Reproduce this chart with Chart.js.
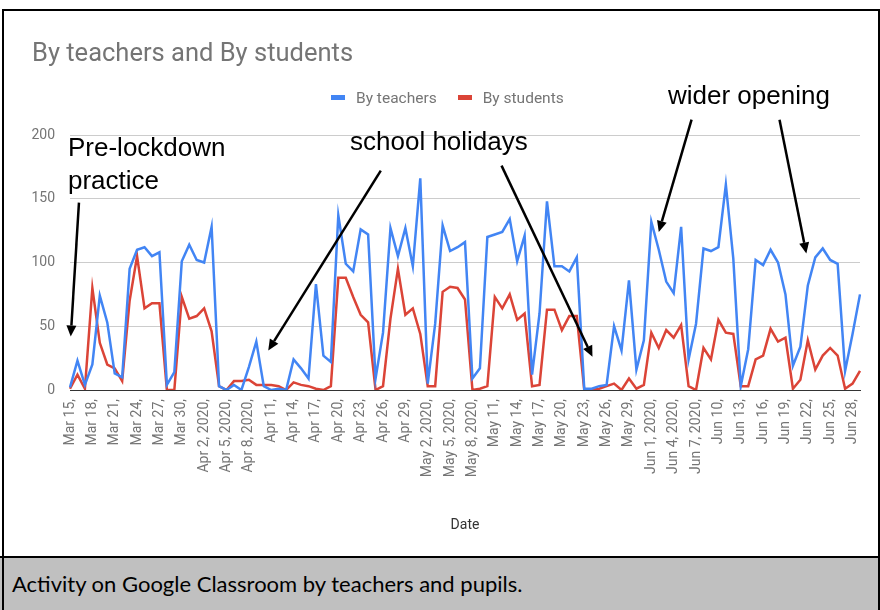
<!DOCTYPE html>
<html>
<head>
<meta charset="utf-8">
<script src="https://cdn.jsdelivr.net/npm/chart.js@4"></script>
<style>
  html, body { margin:0; padding:0; background:#fff; }
  body { width:880px; height:610px; position:relative; overflow:hidden; font-family:Roboto, sans-serif; }
  #wrap { position:absolute; left:0; top:0; width:880px; height:557px; }
  #frame { position:absolute; left:2px; top:9px; width:874px; height:610px; border:2px solid #000; pointer-events:none; box-sizing:content-box; }
  #capband { position:absolute; left:0; top:556px; width:880px; height:60px; background:#c0c0c0; border-top:2px solid #000; }
  #caption { position:absolute; left:12px; top:570px; font-family:Lato, sans-serif; font-size:22px; color:#000; white-space:nowrap; }
  .title { position:absolute; left:32px; top:37px; font-family:Roboto; font-size:25.5px; color:#757575; white-space:nowrap; line-height:30px; }
  .legend { position:absolute; top:89px; left:331px; font-family:Roboto; font-size:15.5px; color:#757575; white-space:nowrap; line-height:18px; }
  .legend span.sw { display:inline-block; width:14px; height:5px; vertical-align:middle; margin-right:11px; position:relative; top:-1px; }
  .note { position:absolute; font-family:"Liberation Sans", Arial, sans-serif; font-size:26px; color:#000; white-space:nowrap; line-height:33px; }
</style>
</head>
<body>
<div id="wrap"><canvas id="c" width="880" height="557"></canvas></div>
<div class="title">By teachers and By students</div>
<div class="legend"><span class="sw" style="background:#4285f4"></span>By teachers<span style="display:inline-block;width:21px"></span><span class="sw" style="background:#db4437"></span>By students</div>
<div class="note" style="left:68px;top:131px;">Pre-lockdown<br>practice</div>
<div class="note" style="left:350px;top:125px;">school holidays</div>
<div class="note" style="left:668px;top:79px;">wider opening</div>
<div id="capband"></div>
<div id="caption">Activity on Google Classroom by teachers and pupils.</div>
<div id="frame"></div>
<script>
const dates = [
 "Mar 15","Mar 16","Mar 17","Mar 18","Mar 19","Mar 20","Mar 21","Mar 22","Mar 23","Mar 24","Mar 25","Mar 26","Mar 27","Mar 28","Mar 29","Mar 30","Mar 31",
 "Apr 1","Apr 2","Apr 3","Apr 4","Apr 5","Apr 6","Apr 7","Apr 8","Apr 9","Apr 10","Apr 11","Apr 12","Apr 13","Apr 14","Apr 15","Apr 16","Apr 17","Apr 18","Apr 19","Apr 20","Apr 21","Apr 22","Apr 23","Apr 24","Apr 25","Apr 26","Apr 27","Apr 28","Apr 29","Apr 30",
 "May 1","May 2","May 3","May 4","May 5","May 6","May 7","May 8","May 9","May 10","May 11","May 12","May 13","May 14","May 15","May 16","May 17","May 18","May 19","May 20","May 21","May 22","May 23","May 24","May 25","May 26","May 27","May 28","May 29","May 30","May 31",
 "Jun 1","Jun 2","Jun 3","Jun 4","Jun 5","Jun 6","Jun 7","Jun 8","Jun 9","Jun 10","Jun 11","Jun 12","Jun 13","Jun 14","Jun 15","Jun 16","Jun 17","Jun 18","Jun 19","Jun 20","Jun 21","Jun 22","Jun 23","Jun 24","Jun 25","Jun 26","Jun 27","Jun 28","Jun 29"
];
const tickLabels = ["Mar 15,","Mar 18,","Mar 21,","Mar 24,","Mar 27,","Mar 30,","Apr 2, 2020,","Apr 5, 2020,","Apr 8, 2020,","Apr 11,","Apr 14,","Apr 17,","Apr 20,","Apr 23,","Apr 26,","Apr 29,","May 2, 2020,","May 5, 2020,","May 8, 2020,","May 11,","May 14,","May 17,","May 20,","May 23,","May 26,","May 29,","Jun 1, 2020,","Jun 4, 2020,","Jun 7, 2020,","Jun 10,","Jun 13,","Jun 16,","Jun 19,","Jun 22,","Jun 25,","Jun 28,"];
const byTeachers = [
 2,23,4,20,74,53,13,10,95,110,112,105,108,4,14,101,114,
 102,100,128,3,0,4,0,18,38,3,0,1,0,24,17,9,83,27,22,137,99,93,126,122,9,45,127,105,127,97,
 166,5,52,129,109,112,116,9,17,120,122,124,134,101,121,12,60,148,97,97,93,104,1,1,3,4,50,31,86,16,39,
 132,110,85,76,128,24,52,111,109,112,161,103,3,32,102,98,110,100,75,19,34,82,104,111,102,99,15,44,75
];
const byStudents = [
 1,12,1,80,37,20,17,7,70,105,64,68,68,0,0,73,56,
 58,64,46,3,0,7,7,8,4,4,4,3,0,6,4,3,1,0,3,88,88,73,59,53,0,3,56,95,59,64,
 44,3,3,77,81,80,71,0,1,3,73,64,75,55,60,3,4,63,63,47,58,58,0,0,1,3,5,0,9,1,4,
 45,33,47,41,51,3,0,33,24,55,45,44,3,3,24,27,48,38,41,1,8,39,16,27,33,27,1,5,15
];
const yTicks = [0, 50, 100, 150, 200];
// annotation arrows in data space: [category index, value]
const arrows = [
 {from:[1.2,147], to:[0.1,42]},
 {from:[41.7,172], to:[26.6,31]},
 {from:[57.9,176], to:[70.1,26]},
 {from:[83.4,212], to:[79.0,124]},
 {from:[95.2,212], to:[98.8,107]}
];

const arrowPlugin = {
  id:'arrows',
  afterDraw(chart){
    const ctx = chart.ctx, xs = chart.scales.x, ys = chart.scales.y;
    ctx.save();
    ctx.strokeStyle = '#000'; ctx.fillStyle = '#000'; ctx.lineWidth = 2.5;
    arrows.forEach(a => {
      const x1 = xs.getPixelForValue(a.from[0]), y1 = ys.getPixelForValue(a.from[1]);
      const x2 = xs.getPixelForValue(a.to[0]), y2 = ys.getPixelForValue(a.to[1]);
      const ang = Math.atan2(y2-y1, x2-x1);
      const hl = 11, hw = 5;
      const bx = x2 - hl*Math.cos(ang), by = y2 - hl*Math.sin(ang);
      ctx.beginPath(); ctx.moveTo(x1,y1); ctx.lineTo(bx,by); ctx.stroke();
      ctx.beginPath();
      ctx.moveTo(x2,y2);
      ctx.lineTo(bx + hw*Math.sin(ang), by - hw*Math.cos(ang));
      ctx.lineTo(bx - hw*Math.sin(ang), by + hw*Math.cos(ang));
      ctx.closePath(); ctx.fill();
    });
    ctx.restore();
  }
};

Chart.defaults.font.family = 'Roboto';
new Chart(document.getElementById('c'), {
  type:'line',
  data:{
    labels: dates,
    datasets:[
      {label:'By teachers', data:byTeachers, borderColor:'#4285f4', backgroundColor:'#4285f4', borderWidth:2.5, pointRadius:0, tension:0},
      {label:'By students', data:byStudents, borderColor:'#db4437', backgroundColor:'#db4437', borderWidth:2.5, pointRadius:0, tension:0}
    ]
  },
  options:{
    responsive:false, animation:false,
    layout:{padding:{left:0, top:135, right:20, bottom:19}},
    plugins:{legend:{display:false}, title:{display:false}, tooltip:{enabled:false}},
    scales:{
      x:{
        grid:{display:false, drawTicks:false},
        border:{display:true, color:'#333', width:1},
        ticks:{autoSkip:false, maxRotation:90, minRotation:90, padding:9, color:'#757575', font:{size:14},
          callback:(v, i) => (i % 3 === 0 && tickLabels[i/3] !== undefined) ? tickLabels[i/3] : null},
        title:{display:true, text:'Date', color:'#333', font:{size:14}},
        afterFit:(s) => { s.height = 148; }
      },
      y:{
        min:0, max:200,
        grid:{drawTicks:false, color:(c) => c.tick && c.tick.value === 0 ? '#333' : '#cccccc', lineWidth:1},
        border:{display:false},
        ticks:{stepSize:50, padding:15, color:'#757575', font:{size:14},
          callback:(v) => yTicks.includes(v) ? String(v) : null},
        afterFit:(s) => { s.width = 70; }
      }
    }
  },
  plugins:[arrowPlugin]
});
</script>
</body>
</html>
